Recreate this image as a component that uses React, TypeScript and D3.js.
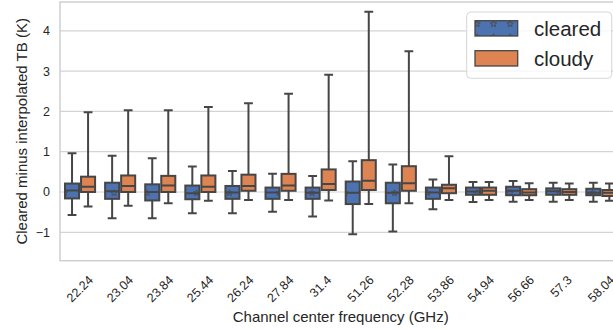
import React from "react";
import * as d3 from "d3";

// channel frequencies (GHz)
const categories = ["22.24", "23.04", "23.84", "25.44", "26.24", "27.84", "31.4", "51.26", "52.28", "53.86", "54.94", "56.66", "57.3", "58.04"];
const series = ["cleared", "cloudy"];

// box stats (K)
const clearedHigh = [0.96, 0.9, 0.84, 0.63, 0.52, 0.45, 0.4, 0.76, 0.68, 0.31, 0.25, 0.27, 0.23, 0.23];
const clearedQ3 = [0.21, 0.23, 0.19, 0.16, 0.15, 0.11, 0.11, 0.26, 0.23, 0.11, 0.11, 0.13, 0.09, 0.08];
const clearedMed = [0.04, 0.02, 0.0, -0.03, -0.01, -0.01, -0.02, -0.02, -0.02, -0.01, 0.01, 0.03, 0.02, -0.02];
const clearedQ1 = [-0.16, -0.17, -0.21, -0.18, -0.17, -0.17, -0.17, -0.3, -0.28, -0.17, -0.07, -0.08, -0.07, -0.08];
const clearedLow = [-0.57, -0.65, -0.65, -0.53, -0.53, -0.49, -0.61, -1.05, -0.98, -0.43, -0.25, -0.24, -0.24, -0.24];

const cloudyHigh = [1.98, 2.03, 2.03, 2.11, 2.2, 2.44, 2.91, 4.47, 3.49, 0.89, 0.25, 0.22, 0.21, 0.21];
const cloudyQ3 = [0.38, 0.41, 0.4, 0.41, 0.43, 0.45, 0.56, 0.79, 0.64, 0.18, 0.11, 0.07, 0.07, 0.05];
const cloudyMed = [0.13, 0.15, 0.16, 0.13, 0.15, 0.16, 0.2, 0.28, 0.22, 0.09, 0.03, -0.01, 0.0, -0.02];
const cloudyQ1 = [0.0, 0.0, 0.0, 0.0, 0.03, 0.03, 0.05, 0.05, 0.03, -0.03, -0.07, -0.08, -0.07, -0.1];
const cloudyLow = [-0.36, -0.34, -0.28, -0.22, -0.2, -0.2, -0.21, -0.3, -0.28, -0.2, -0.2, -0.2, -0.2, -0.22];

const yTicks = [-1, 0, 1, 2, 3, 4];

const W = 613, H = 329;
const M = { left: 60, right: 621.4, top: 2, bottom: 260.7 };
const EDGE = "#464646";
const GRID = "#d4d4d4";
const TXT = "#262626";
const FONT = "'Liberation Sans', Arial, sans-serif";
const COLORS: Record<string, string> = { cleared: "#4C72B0", cloudy: "#DD8452" };

// star outline for the hatch
const starPath = (cx: number, cy: number, r: number) => {
  const pts: [number, number][] = [];
  for (let i = 0; i < 10; i++) {
    const a = -Math.PI / 2 + (i * Math.PI) / 5;
    const rr = i % 2 === 0 ? r : r * 0.42;
    pts.push([cx + rr * Math.cos(a), cy + rr * Math.sin(a)]);
  }
  return "M" + pts.map((p) => p.join(",")).join("L") + "Z";
};

const textW = (s: string, fs: number) =>
  s.split("").reduce((acc, c) => acc + (c === "." ? 0.278 : 0.556), 0) * fs;

export default function App() {
  const x = d3.scaleBand().domain(categories).range([M.left, M.right]).padding(0);
  const hue = d3.scaleBand().domain(series).range([0, x.bandwidth() * 0.8]);
  const y = d3.scaleLinear().domain([-1.705, 4.715]).range([M.bottom, M.top]);

  const stats: Record<string, number[][]> = {
    cleared: [clearedLow, clearedQ1, clearedMed, clearedQ3, clearedHigh],
    cloudy: [cloudyLow, cloudyQ1, cloudyMed, cloudyQ3, cloudyHigh],
  };

  const boxW = hue.bandwidth();
  const capW = boxW * 0.55;
  const tickFs = 12.5;
  const starR = 3.3;

  return (
    <svg width={W} height={H} style={{ position: "absolute", left: 0, top: 0, background: "#fff" }} fontFamily={FONT}>
      <defs>
        <pattern id="stars" patternUnits="userSpaceOnUse" width={16.5} height={13}>
          {[[15, 11], [-1.5, 11], [15, -2], [-1.5, -2]].map(([sx, sy], k) => (
            <path key={k} d={starPath(sx, sy, starR)} fill="none" stroke={EDGE} strokeWidth={0.9} />
          ))}
        </pattern>
        <clipPath id="plotclip">
          <rect x={M.left} y={M.top} width={M.right - M.left} height={M.bottom - M.top} />
        </clipPath>
      </defs>

      {/* grid */}
      {yTicks.map((t) => (
        <line key={t} x1={M.left} x2={M.right} y1={y(t)} y2={y(t)} stroke={GRID} strokeWidth={1.2} />
      ))}
      <rect x={M.left} y={M.top} width={M.right - M.left} height={M.bottom - M.top} fill="none" stroke="#cfcfcf" strokeWidth={1.5} />

      {/* boxes */}
      <g clipPath="url(#plotclip)">
        {categories.map((c, i) =>
          series.map((s) => {
            const [lo, q1, med, q3, hi] = stats[s].map((arr) => arr[i]);
            const x0 = (x(c) as number) + x.bandwidth() * 0.1 + (hue(s) as number);
            const cx = x0 + boxW / 2;
            return (
              <g key={c + s}>
                <line x1={cx} x2={cx} y1={y(hi)} y2={y(q3)} stroke={EDGE} strokeWidth={2} />
                <line x1={cx} x2={cx} y1={y(q1)} y2={y(lo)} stroke={EDGE} strokeWidth={2} />
                <line x1={cx - capW / 2} x2={cx + capW / 2} y1={y(hi)} y2={y(hi)} stroke={EDGE} strokeWidth={2} />
                <line x1={cx - capW / 2} x2={cx + capW / 2} y1={y(lo)} y2={y(lo)} stroke={EDGE} strokeWidth={2} />
                <rect x={x0 + 1} y={y(q3)} width={boxW - 2} height={y(q1) - y(q3)} fill={COLORS[s]} stroke={EDGE} strokeWidth={2} />
                {s === "cleared" && (
                  <rect x={x0 + 1} y={y(q3)} width={boxW - 2} height={y(q1) - y(q3)} fill="url(#stars)" />
                )}
                <line x1={x0 + 1} x2={x0 + boxW - 1} y1={y(med)} y2={y(med)} stroke={EDGE} strokeWidth={2} />
              </g>
            );
          })
        )}
      </g>

      {/* y ticks */}
      {yTicks.map((t) => (
        <text key={t} x={50} y={y(t)} dy="0.36em" textAnchor="end" fontSize={tickFs} fill={TXT}>
          {t < 0 ? "\u2212" + Math.abs(t) : t}
        </text>
      ))}

      {/* x ticks */}
      {categories.map((c) => {
        const w = textW(c, tickFs);
        const h = tickFs * 1.15;
        const cy = 273 + (w + h) / (2 * Math.SQRT2);
        const cx = (x(c) as number) + x.bandwidth() / 2;
        return (
          <text key={c} transform={`translate(${cx},${cy}) rotate(-45)`} textAnchor="middle" dominantBaseline="central" fontSize={tickFs} fill={TXT}>
            {c}
          </text>
        );
      })}

      {/* axis labels */}
      <text x={(M.left + M.right) / 2} y={322} textAnchor="middle" fontSize={15} fill={TXT}>
        Channel center frequency (GHz)
      </text>
      <text transform={`translate(27,${(M.top + M.bottom) / 2}) rotate(-90)`} textAnchor="middle" fontSize={15} fill={TXT}>
        Cleared minus interpolated TB (K)
      </text>

      {/* legend */}
      <g>
        <rect x={466.7} y={12} width={145} height={66.3} rx={4} fill="#fff" fillOpacity={0.8} stroke="#d6d6d6" strokeWidth={1} />
        {series.map((s, i) => (
          <g key={s}>
            <rect x={475} y={20.7 + i * 30} width={42.7} height={15.3} fill={COLORS[s]} stroke={EDGE} strokeWidth={1.3} />
            {s === "cleared" && <rect x={475} y={20.7} width={42.7} height={15.3} fill="url(#stars)" />}
            <text x={534} y={35.7 + i * 30} fontSize={20.5} fill={TXT}>
              {s}
            </text>
          </g>
        ))}
      </g>
    </svg>
  );
}
